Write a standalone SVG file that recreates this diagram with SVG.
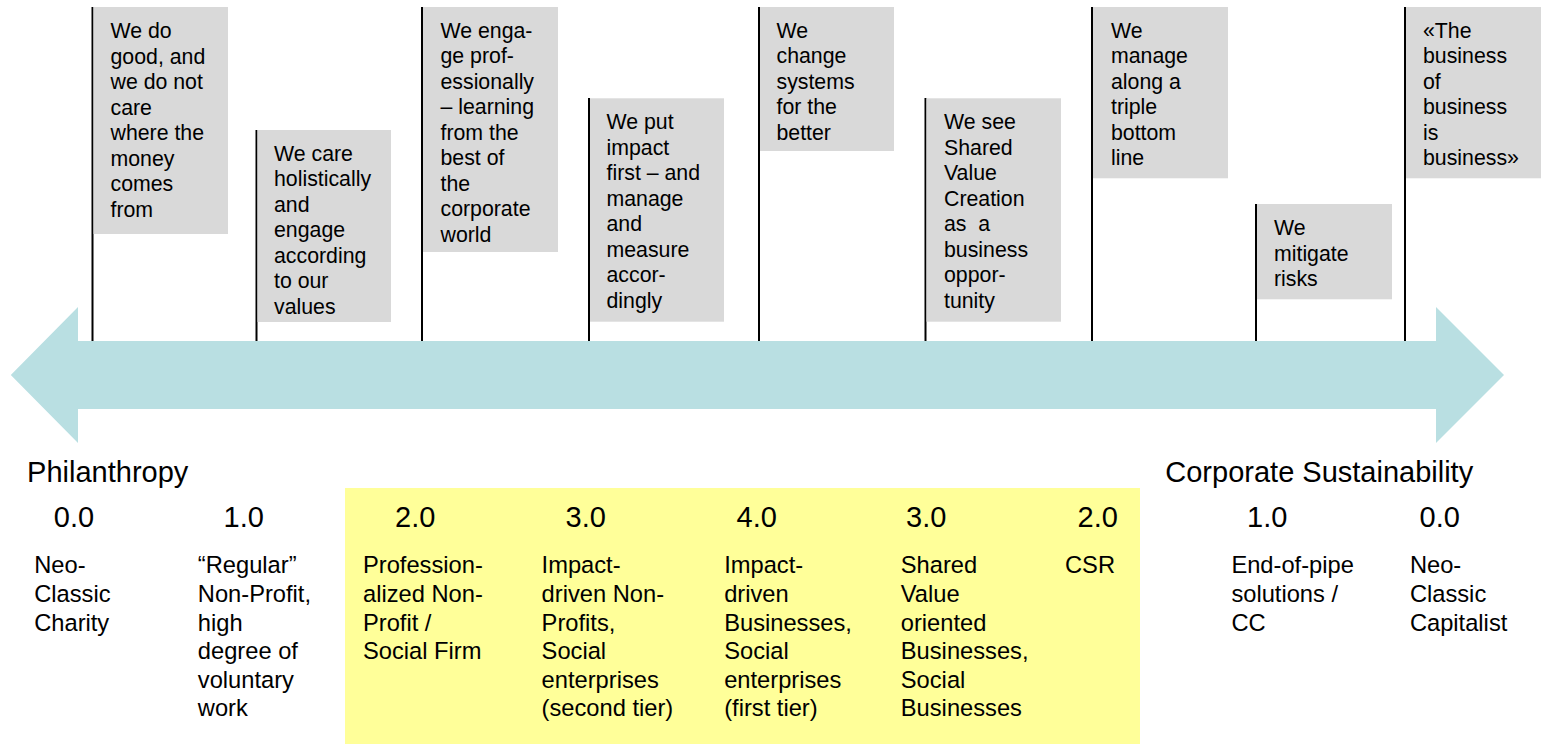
<svg xmlns="http://www.w3.org/2000/svg" width="1544" height="744" viewBox="0 0 1544 744">
<style>
text{font-family:"Liberation Sans",Arial,sans-serif;fill:#000}
.bt{font-size:21.3px}
.lb{font-size:23.7px}
.num{font-size:29px}
.hd{font-size:29px}
.box{fill:#D9D9D9}
.stem{stroke:#000;stroke-width:2;fill:none}
</style>
<rect width="1544" height="744" fill="#fff"/>
<g id="highlight"><rect x="345" y="488" width="795" height="256" fill="#FFFF99"/></g>
<g id="connectors">
<line class="stem" x1="92.5" y1="7" x2="92.5" y2="341"/>
<line class="stem" x1="256.5" y1="130" x2="256.5" y2="341"/>
<line class="stem" x1="422" y1="7" x2="422" y2="341"/>
<line class="stem" x1="589" y1="98" x2="589" y2="341"/>
<line class="stem" x1="759" y1="7" x2="759" y2="341"/>
<line class="stem" x1="925.5" y1="98" x2="925.5" y2="341"/>
<line class="stem" x1="1092" y1="7" x2="1092" y2="341"/>
<line class="stem" x1="1256" y1="204" x2="1256" y2="341"/>
<line class="stem" x1="1405" y1="7" x2="1405" y2="341"/>
</g>
<g id="arrow"><polygon points="10.8,375 78,307 78,341 1436,341 1436,307 1504,375 1436,443 1436,409 78,409 78,443" fill="#B9DFE2"/></g>
<g id="flag1"><rect class="box" x="93.5" y="7" width="134.5" height="227"/>
<text class="bt"><tspan x="110.5" y="38.3">We do</tspan><tspan x="110.5" dy="25.5">good, and</tspan><tspan x="110.5" dy="25.5">we do not</tspan><tspan x="110.5" dy="25.5">care</tspan><tspan x="110.5" dy="25.5">where the</tspan><tspan x="110.5" dy="25.5">money</tspan><tspan x="110.5" dy="25.5">comes</tspan><tspan x="110.5" dy="25.5">from</tspan></text></g>
<g id="flag2"><rect class="box" x="257.5" y="130" width="133.5" height="192"/>
<text class="bt"><tspan x="274" y="160.7">We care</tspan><tspan x="274" dy="25.5">holistically</tspan><tspan x="274" dy="25.5">and</tspan><tspan x="274" dy="25.5">engage</tspan><tspan x="274" dy="25.5">according</tspan><tspan x="274" dy="25.5">to our</tspan><tspan x="274" dy="25.5">values</tspan></text></g>
<g id="flag3"><rect class="box" x="423" y="7" width="135" height="245"/>
<text class="bt"><tspan x="440.5" y="37.7">We enga-</tspan><tspan x="440.5" dy="25.5">ge prof-</tspan><tspan x="440.5" dy="25.5">essionally</tspan><tspan x="440.5" dy="25.5">– learning</tspan><tspan x="440.5" dy="25.5">from the</tspan><tspan x="440.5" dy="25.5">best of</tspan><tspan x="440.5" dy="25.5">the</tspan><tspan x="440.5" dy="25.5">corporate</tspan><tspan x="440.5" dy="25.5">world</tspan></text></g>
<g id="flag4"><rect class="box" x="590" y="98.3" width="134" height="223.4"/>
<text class="bt"><tspan x="606.5" y="129.3">We put</tspan><tspan x="606.5" dy="25.5">impact</tspan><tspan x="606.5" dy="25.5">first – and</tspan><tspan x="606.5" dy="25.5">manage</tspan><tspan x="606.5" dy="25.5">and</tspan><tspan x="606.5" dy="25.5">measure</tspan><tspan x="606.5" dy="25.5">accor-</tspan><tspan x="606.5" dy="25.5">dingly</tspan></text></g>
<g id="flag5"><rect class="box" x="760" y="7" width="134" height="144"/>
<text class="bt"><tspan x="776.5" y="37.7">We</tspan><tspan x="776.5" dy="25.5">change</tspan><tspan x="776.5" dy="25.5">systems</tspan><tspan x="776.5" dy="25.5">for the</tspan><tspan x="776.5" dy="25.5">better</tspan></text></g>
<g id="flag6"><rect class="box" x="926.5" y="98.3" width="134.5" height="223.4"/>
<text class="bt" xml:space="preserve"><tspan x="944" y="129.3">We see</tspan><tspan x="944" dy="25.5">Shared</tspan><tspan x="944" dy="25.5">Value</tspan><tspan x="944" dy="25.5">Creation</tspan><tspan x="944" dy="25.5">as  a</tspan><tspan x="944" dy="25.5">business</tspan><tspan x="944" dy="25.5">oppor-</tspan><tspan x="944" dy="25.5">tunity</tspan></text></g>
<g id="flag7"><rect class="box" x="1093" y="7" width="135" height="171.3"/>
<text class="bt"><tspan x="1111" y="37.7">We</tspan><tspan x="1111" dy="25.5">manage</tspan><tspan x="1111" dy="25.5">along a</tspan><tspan x="1111" dy="25.5">triple</tspan><tspan x="1111" dy="25.5">bottom</tspan><tspan x="1111" dy="25.5">line</tspan></text></g>
<g id="flag8"><rect class="box" x="1257" y="204" width="135" height="95.3"/>
<text class="bt"><tspan x="1274" y="235">We</tspan><tspan x="1274" dy="25.5">mitigate</tspan><tspan x="1274" dy="25.5">risks</tspan></text></g>
<g id="flag9"><rect class="box" x="1406" y="7" width="135" height="171.3"/>
<text class="bt"><tspan x="1423" y="37.7">«The</tspan><tspan x="1423" dy="25.5">business</tspan><tspan x="1423" dy="25.5">of</tspan><tspan x="1423" dy="25.5">business</tspan><tspan x="1423" dy="25.5">is</tspan><tspan x="1423" dy="25.5">business»</tspan></text></g>
<g id="pole-left"><text class="hd" x="27.1" y="481.7">Philanthropy</text></g>
<g id="pole-right"><text class="hd" x="1165.3" y="481.7">Corporate Sustainability</text></g>
<g id="stage-0-left"><text class="num" x="53.8" y="527.3">0.0</text>
<text class="lb"><tspan x="34.2" y="573.3">Neo-</tspan><tspan x="34.2" dy="28.6">Classic</tspan><tspan x="34.2" dy="28.6">Charity</tspan></text></g>
<g id="stage-1-left"><text class="num" x="223.5" y="527.3">1.0</text>
<text class="lb"><tspan x="197.8" y="573.3">“Regular”</tspan><tspan x="197.8" dy="28.6">Non-Profit,</tspan><tspan x="197.8" dy="28.6">high</tspan><tspan x="197.8" dy="28.6">degree of</tspan><tspan x="197.8" dy="28.6">voluntary</tspan><tspan x="197.8" dy="28.6">work</tspan></text></g>
<g id="stage-2-left"><text class="num" x="395" y="527.3">2.0</text>
<text class="lb"><tspan x="363" y="573.3">Profession-</tspan><tspan x="363" dy="28.6">alized Non-</tspan><tspan x="363" dy="28.6">Profit /</tspan><tspan x="363" dy="28.6">Social Firm</tspan></text></g>
<g id="stage-3-left"><text class="num" x="565.5" y="527.3">3.0</text>
<text class="lb"><tspan x="541.6" y="573.3">Impact-</tspan><tspan x="541.6" dy="28.6">driven Non-</tspan><tspan x="541.6" dy="28.6">Profits,</tspan><tspan x="541.6" dy="28.6">Social</tspan><tspan x="541.6" dy="28.6">enterprises</tspan><tspan x="541.6" dy="28.6">(second tier)</tspan></text></g>
<g id="stage-4"><text class="num" x="736.5" y="527.3">4.0</text>
<text class="lb"><tspan x="724.2" y="573.3">Impact-</tspan><tspan x="724.2" dy="28.6">driven</tspan><tspan x="724.2" dy="28.6">Businesses,</tspan><tspan x="724.2" dy="28.6">Social</tspan><tspan x="724.2" dy="28.6">enterprises</tspan><tspan x="724.2" dy="28.6">(first tier)</tspan></text></g>
<g id="stage-3-right"><text class="num" x="906" y="527.3">3.0</text>
<text class="lb"><tspan x="900.8" y="573.3">Shared</tspan><tspan x="900.8" dy="28.6">Value</tspan><tspan x="900.8" dy="28.6">oriented</tspan><tspan x="900.8" dy="28.6">Businesses,</tspan><tspan x="900.8" dy="28.6">Social</tspan><tspan x="900.8" dy="28.6">Businesses</tspan></text></g>
<g id="stage-2-right"><text class="num" x="1077.5" y="527.3">2.0</text>
<text class="lb" x="1065" y="573.3">CSR</text></g>
<g id="stage-1-right"><text class="num" x="1247" y="527.3">1.0</text>
<text class="lb"><tspan x="1231.4" y="573.3">End-of-pipe</tspan><tspan x="1231.4" dy="28.6">solutions /</tspan><tspan x="1231.4" dy="28.6">CC</tspan></text></g>
<g id="stage-0-right"><text class="num" x="1419.5" y="527.3">0.0</text>
<text class="lb"><tspan x="1409.9" y="573.3">Neo-</tspan><tspan x="1409.9" dy="28.6">Classic</tspan><tspan x="1409.9" dy="28.6">Capitalist</tspan></text></g>
</svg>
